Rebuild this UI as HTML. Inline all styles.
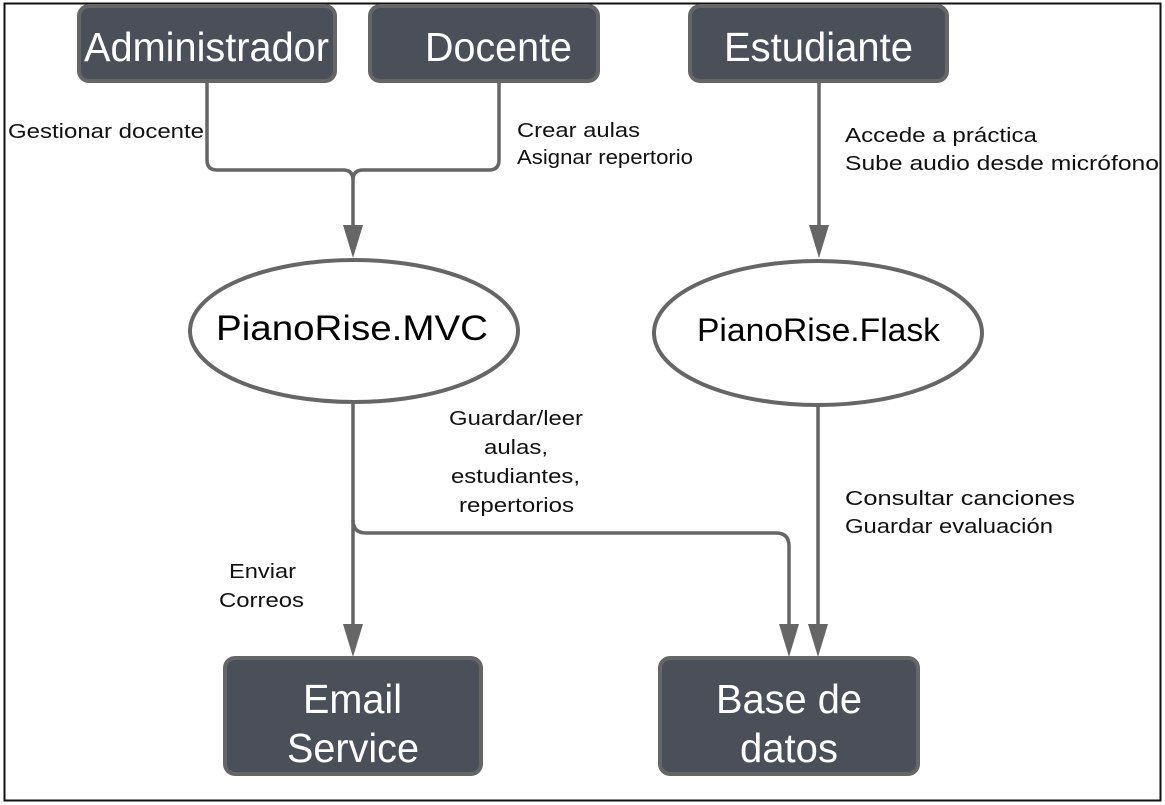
<!DOCTYPE html>
<html><head><meta charset="utf-8"><style>
html,body{margin:0;padding:0;background:#fff;}
svg{display:block;font-family:"Liberation Sans",Arial,sans-serif;}
</style></head><body>
<svg width="1165" height="805" viewBox="0 0 1165 805" xmlns="http://www.w3.org/2000/svg">
<rect x="4.5" y="3.5" width="1156" height="797" fill="#fff" stroke="#111" stroke-width="2"/>
<g fill="#4a4f59" stroke="#666" stroke-width="4">
<rect x="79" y="6" width="256" height="75" rx="10"/>
<rect x="370" y="6" width="228" height="75" rx="10"/>
<rect x="690" y="6" width="257" height="75" rx="10"/>
<rect x="225" y="658" width="256" height="116" rx="10"/>
<rect x="660" y="658" width="258" height="116" rx="10"/>
</g>
<g fill="#fff" font-size="41" lengthAdjust="spacingAndGlyphs">
<text x="84" y="61" textLength="245" lengthAdjust="spacingAndGlyphs">Administrador</text>
<text x="425" y="61" textLength="147" lengthAdjust="spacingAndGlyphs">Docente</text>
<text x="724" y="61" textLength="189" lengthAdjust="spacingAndGlyphs">Estudiante</text>
<text x="303" y="713" textLength="99" lengthAdjust="spacingAndGlyphs">Email</text>
<text x="287" y="762" textLength="132" lengthAdjust="spacingAndGlyphs">Service</text>
<text x="716" y="713" textLength="146" lengthAdjust="spacingAndGlyphs">Base de</text>
<text x="740" y="762" textLength="98" lengthAdjust="spacingAndGlyphs">datos</text>
</g>
<g fill="#fff" stroke="#666" stroke-width="4">
<ellipse cx="354" cy="331" rx="164" ry="71"/>
<ellipse cx="818" cy="333" rx="164" ry="72"/>
</g>
<g fill="#000">
<text x="216" y="340" font-size="35" textLength="272" lengthAdjust="spacingAndGlyphs">PianoRise.MVC</text>
<text x="697" y="341" font-size="32" textLength="243" lengthAdjust="spacingAndGlyphs">PianoRise.Flask</text>
</g>
<g fill="none" stroke="#666" stroke-width="3.5">
<path d="M207 81 V160 q0 10 10 10 H343 q10 0 10 10 V230"/>
<path d="M499 81 V160 q0 10 -10 10 H363 q-10 0 -10 10"/>
<path d="M819 81 V228"/>
<path d="M353 403 V625"/>
<path d="M353 520 q0 13 13 13 H776 q13 0 13 13 V625"/>
<path d="M818 405 V625"/>
</g>
<g fill="#666">
<polygon points="343,225 363,225 353,258"/>
<polygon points="809,225 829,225 819,258"/>
<polygon points="343,624 363,624 353,657"/>
<polygon points="779,624 799,624 789,657"/>
<polygon points="808,624 828,624 818,657"/>
</g>
<g fill="#111" font-size="20">
<text x="8" y="138" textLength="196" lengthAdjust="spacingAndGlyphs">Gestionar docente</text>
<text x="517" y="137" textLength="123" lengthAdjust="spacingAndGlyphs">Crear aulas</text>
<text x="517" y="164" textLength="176" lengthAdjust="spacingAndGlyphs">Asignar repertorio</text>
<text x="845" y="142" textLength="192" lengthAdjust="spacingAndGlyphs">Accede a práctica</text>
<text x="845" y="170" textLength="314" lengthAdjust="spacingAndGlyphs">Sube audio desde micrófono</text>
<text x="845" y="505" textLength="230" lengthAdjust="spacingAndGlyphs">Consultar canciones</text>
<text x="845" y="533" textLength="208" lengthAdjust="spacingAndGlyphs">Guardar evaluación</text>
<text x="449" y="425" textLength="134" lengthAdjust="spacingAndGlyphs">Guardar/leer</text>
<text x="484" y="454" textLength="64" lengthAdjust="spacingAndGlyphs">aulas,</text>
<text x="451" y="483" textLength="129" lengthAdjust="spacingAndGlyphs">estudiantes,</text>
<text x="459" y="512" textLength="115" lengthAdjust="spacingAndGlyphs">repertorios</text>
<text x="229" y="578" textLength="67" lengthAdjust="spacingAndGlyphs">Enviar</text>
<text x="219" y="607" textLength="85" lengthAdjust="spacingAndGlyphs">Correos</text>
</g>
</svg>
</body></html>
